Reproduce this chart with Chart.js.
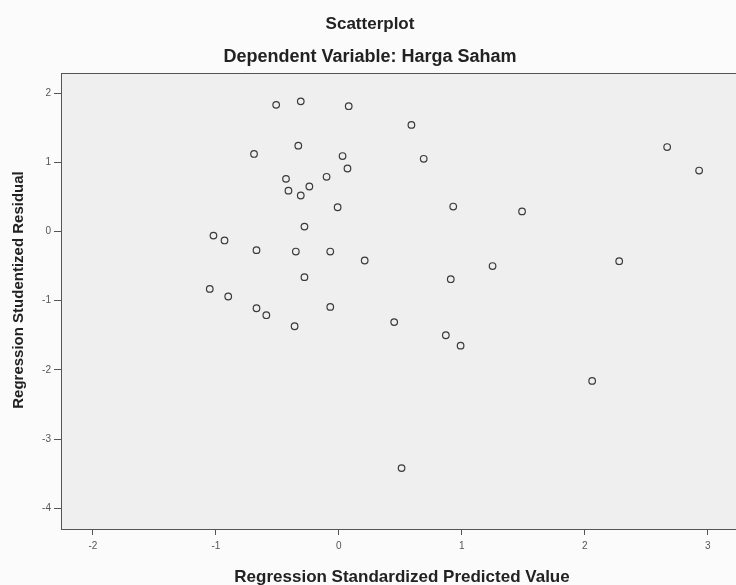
<!DOCTYPE html>
<html>
<head>
<meta charset="utf-8">
<script src="https://cdn.jsdelivr.net/npm/chart.js@4.4.1/dist/chart.umd.min.js"></script>
<style>
  html, body { margin: 0; padding: 0; background: #fbfbfb; }
  #wrap { width: 736px; height: 585px; }
</style>
</head>
<body>
<div id="wrap"><canvas id="scatter" width="736" height="585"></canvas></div>
<script>
// predicted values (x) and studentized residuals (y)
const predicted = [
  -0.51, -0.31, 0.08, 0.59, -0.69, -0.33, 0.03, 0.07, 0.69, -0.43,
  -0.41, -0.31, -0.24, -0.10, -0.01, -0.28, 0.93, 1.49, 2.67, 2.93,
  -1.02, -0.93, -0.67, -0.35, -0.07, 0.21, 1.25, 2.28, -0.28, 0.91,
  -1.05, -0.90, -0.67, -0.59, -0.07, -0.36, 0.45, 0.87, 0.99, 2.06,
  0.51
];
const residual = [
  1.83, 1.88, 1.81, 1.54, 1.12, 1.24, 1.09, 0.91, 1.05, 0.76,
  0.59, 0.52, 0.65, 0.79, 0.35, 0.07, 0.36, 0.29, 1.22, 0.88,
  -0.06, -0.13, -0.27, -0.29, -0.29, -0.42, -0.50, -0.43, -0.66, -0.69,
  -0.83, -0.94, -1.11, -1.21, -1.09, -1.37, -1.31, -1.50, -1.65, -2.16,
  -3.42
];
const xTicks = [-2, -1, 0, 1, 2, 3];
const yTicks = [-4, -3, -2, -1, 0, 1, 2];

const points = predicted.map((x, i) => ({ x: x, y: residual[i] }));

// plot background, frame and text
const decor = {
  id: 'decor',
  beforeDraw(chart) {
    const { ctx, chartArea: a } = chart;
    ctx.save();
    ctx.fillStyle = '#efefef';
    ctx.fillRect(a.left, a.top, a.right - a.left, a.bottom - a.top);
    ctx.strokeStyle = '#555';
    ctx.lineWidth = 1;
    ctx.strokeRect(a.left + 0.5, a.top + 0.5, a.right - a.left + 5, a.bottom - a.top);
    ctx.restore();
  },
  afterDraw(chart) {
    const { ctx, chartArea: a } = chart;
    ctx.save();
    ctx.fillStyle = '#222';
    ctx.textAlign = 'center';
    ctx.textBaseline = 'middle';
    ctx.font = 'bold 17px "Liberation Sans", Arial, sans-serif';
    ctx.fillText('Scatterplot', 370, 24);
    ctx.font = 'bold 18px "Liberation Sans", Arial, sans-serif';
    ctx.fillText('Dependent Variable: Harga Saham', 370, 57);
    ctx.font = 'bold 17px "Liberation Sans", Arial, sans-serif';
    ctx.fillText('Regression Standardized Predicted Value', 402, 577);
    ctx.font = 'bold 15px "Liberation Sans", Arial, sans-serif';
    ctx.translate(19, 290);
    ctx.rotate(-Math.PI / 2);
    ctx.fillText('Regression Studentized Residual', 0, 0);
    ctx.restore();
  }
};

new Chart(document.getElementById('scatter'), {
  type: 'scatter',
  data: {
    datasets: [{
      data: points,
      pointStyle: 'circle',
      pointRadius: 3.3,
      pointBorderWidth: 1.2,
      pointBorderColor: '#3a3a3a',
      pointBackgroundColor: 'rgba(0,0,0,0)'
    }]
  },
  options: {
    responsive: false,
    animation: false,
    layout: { autoPadding: false, padding: { top: 73, right: 0, left: 0, bottom: 0 } },
    plugins: { legend: { display: false }, tooltip: { enabled: false } },
    scales: {
      x: {
        type: 'linear',
        min: -2.26,
        max: 3.23,
        afterFit: s => { s.height = 56; s.paddingRight = 0; s.paddingLeft = 0; },
        afterBuildTicks: s => { s.ticks = xTicks.map(v => ({ value: v })); },
        border: { display: false },
        grid: { drawOnChartArea: false, tickLength: 6, color: '#555' },
        ticks: { padding: 5, color: '#555', font: { size: 10, family: '"Liberation Sans", Arial' } }
      },
      y: {
        type: 'linear',
        min: -4.3,
        max: 2.29,
        afterFit: s => { s.width = 61; s.paddingTop = 0; s.paddingBottom = 0; },
        afterBuildTicks: s => { s.ticks = yTicks.map(v => ({ value: v })); },
        border: { display: false },
        grid: { drawOnChartArea: false, tickLength: 7, color: '#555' },
        ticks: { padding: 3, color: '#555', font: { size: 10, family: '"Liberation Sans", Arial' } }
      }
    }
  },
  plugins: [decor]
});
</script>
</body>
</html>
